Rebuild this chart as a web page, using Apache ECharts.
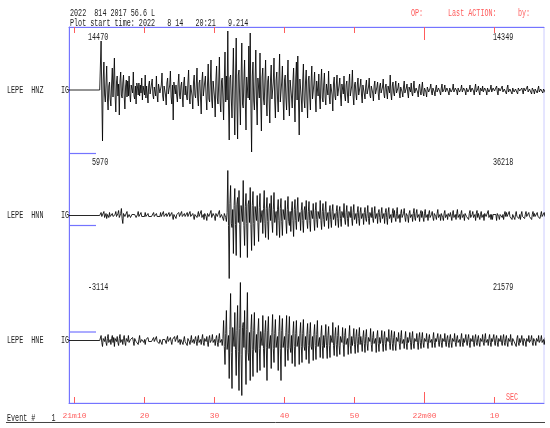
<!DOCTYPE html>
<html><head><meta charset="utf-8">
<script src="https://cdn.jsdelivr.net/npm/echarts@6/dist/echarts.min.js"></script>
<style>html,body{margin:0;padding:0;background:#fff}#c{width:550px;height:428px}</style>
</head><body><div id="c"></div>
<script>
// time axis (seconds after 20:21:00)
const plotStart = 9.214;
const plotEnd = 77.07;
const sigStart = 13.7;    // first sample of the listed values
const dt = 0.1;           // sample spacing, s
const tickSecs = [10, 20, 30, 40, 50, 60, 70];
const tickLabels = ['21m10', '20', '30', '40', '50', '22m00', '10'];
const channels = ['HNZ', 'HNN', 'HNE'];
const station = 'LEPE';
const leftCounts = ['14470', '5970', '-3114'];
const rightCounts = ['14349', '36218', '21579'];

// relative amplitude, one row per 2 s
const hnz = [
 0,49,-6,-51,10,28,-5,-12,6,24,-8,-20,4,8,-9,-16,6,22,-7,12,
 32,-5,-22,8,14,-6,6,-25,9,18,-5,-8,7,15,-6,-19,4,10,-7,9,
 -6,14,-4,-12,5,4,-3,18,-6,-9,4,-14,7,3,-5,7,-6,5,-3,12,
 -10,4,3,-5,15,-8,4,6,-13,5,9,-4,-4,6,11,-5,-9,3,5,-6,
 14,-5,-12,6,8,-3,-3,5,17,-6,-11,4,6,-5,-15,7,12,-4,-6,5,
 19,-7,-14,5,-30,8,10,-4,5,-6,-12,6,16,-5,-9,4,8,-6,-17,7,
 13,-5,4,-6,-10,7,20,-8,-14,5,7,-6,-19,8,15,-5,-8,6,22,-9,
 -16,7,10,-8,-24,9,18,-6,-6,8,14,-7,-20,6,26,-9,-12,8,30,-10,
 -18,9,9,-7,-27,10,24,-8,-14,7,33,-11,-22,9,12,-8,-30,10,38,-12,
 14,-10,59,-15,-50,12,15,-9,-28,11,42,-14,-45,13,52,-12,-49,15,20,-10,
 -35,12,47,-14,-18,10,30,-12,-40,13,12,-8,44,-10,57,-15,-62,14,28,-11,
 -20,9,40,-13,-35,12,10,-8,37,-12,-41,13,22,-9,-15,10,30,-12,-26,9,
 14,-10,-33,11,25,-9,-10,8,32,-11,-28,10,18,-8,-22,9,36,-12,-12,8,
 24,-9,-30,10,15,-8,-20,9,30,-11,-26,10,8,-7,-18,8,22,-9,-32,11,
 28,-10,34,-12,-45,11,12,-8,-22,9,26,-10,-18,8,20,-9,-28,10,14,-7,
 -20,8,24,-9,-8,6,18,-8,-22,9,10,-6,16,-7,-19,8,21,-8,-12,6,
 17,-7,-15,6,8,-5,19,-7,-14,6,6,-5,-21,7,13,-6,-10,5,15,-6,
 -8,5,12,-6,-16,6,5,-4,14,-6,-11,5,9,-5,-13,6,16,-6,-7,4,
 20,-6,-15,5,8,-4,-10,5,12,-5,-6,4,11,-5,-13,5,7,-4,-9,4,
 10,-4,-5,3,12,-5,-8,4,4,-3,-11,4,9,-4,-6,3,8,-4,-10,4,
 7,-3,-4,3,11,-4,-8,3,6,-3,-9,4,5,-3,15,-4,-10,4,8,-3,
 -6,3,9,-3,-3,2,7,-3,-8,3,5,-2,-7,3,9,-3,-4,2,6,-3,
 -8,3,4,-2,7,-3,-6,2,9,-3,-5,2,3,-2,-7,3,6,-2,-5,2,
 8,-3,-6,2,4,-2,-7,3,5,-2,-3,2,6,-2,-5,2,4,-2,-6,2,
 5,-2,-3,2,4,-2,-5,2,6,-2,-2,1,5,-2,-4,2,3,-2,-5,2,
 4,-2,-3,1,6,-2,-4,2,2,-1,-5,2,4,-2,-3,1,5,-2,-4,2,
 3,-1,-5,2,4,-2,-2,1,5,-2,-4,2,3,-1,-5,2,6,-2,-3,1,
 4,-2,-5,2,2,-1,4,-2,-4,2,3,-1,-5,2,4,-2,-3,1,5,-2,
 -4,2,2,-1,-3,1,4,-2,-5,2,3,-1,-2,1,4,-2,-4,1,3,-1,
 -4,2,5,-2,-2,1,3,-1,-4,2,4,-2,-3,1,2,-1,-4,2,4,-1,
 -3,1,2,-1,-4,2,3,-1,-3,1,4,-2,-2,1,3,-1,-4,2,3,-1,
 -4,1,2,-1,-3,1,4,-2,-2,1,3,-1,-3,1,2,-1,-3,1,2,-1
];
const hnn = [
 0,3,-1,-2,1,4,-2,-1,2,-3,1,2,-2,3,-1,-2,1,2,-1,1,
 -3,1,4,-1,-2,2,5,-2,-4,2,7,-3,-8,2,3,-1,-2,1,4,-2,
 -3,1,2,-2,-4,1,3,-1,-1,1,2,-2,-3,1,4,-1,-2,1,3,-1,
 -2,1,1,-1,3,-1,-2,1,2,-1,-3,1,1,-1,-2,1,3,-1,-1,1,
 2,-1,-3,1,1,-1,3,-1,-2,1,4,-1,-3,1,2,-1,-1,1,3,-1,
 -2,1,3,-1,-4,1,2,-1,-3,1,1,-1,3,-1,-2,1,4,-1,-3,1,
 2,-1,-3,1,3,-1,-1,1,4,-1,-3,1,2,-1,-4,1,3,-1,-2,1,
 4,-1,-3,1,5,-2,-2,1,-4,2,3,-1,-5,2,4,-1,-3,1,5,-2,
 -4,2,3,-1,-5,2,4,-1,-3,1,5,-2,-4,1,2,-1,-5,2,4,-2,
 -6,3,45,-10,-63,12,30,-8,-12,6,-38,10,27,-9,-40,11,18,-7,25,-9,
 -42,10,12,-6,35,-10,-30,9,22,-8,-42,11,15,-7,28,-9,-35,10,24,-8,
 -30,9,10,-5,20,-7,-26,8,22,-7,-8,5,-18,7,25,-8,-22,7,18,-6,
 -24,7,12,-5,20,-6,-17,6,23,-7,-9,4,-20,6,16,-5,-22,7,17,-6,
 -20,6,8,-4,15,-5,-18,6,19,-6,-10,4,-16,5,14,-5,-21,6,16,-5,
 -14,5,18,-6,-6,3,-15,5,13,-5,-17,5,9,-4,15,-5,-13,4,14,-5,
 -16,5,7,-3,12,-4,-15,5,13,-4,-12,4,5,-3,15,-5,-14,4,12,-4,
 -11,4,14,-5,-6,3,-13,4,10,-4,-12,4,11,-4,-4,2,-10,4,10,-3,
 -12,4,9,-3,-11,4,5,-2,12,-4,-9,3,10,-3,-11,4,3,-2,9,-3,
 -10,3,11,-4,-5,2,-8,3,9,-3,-10,3,8,-3,-4,2,-9,3,8,-3,
 -6,2,10,-3,-9,3,3,-2,8,-3,-7,2,9,-3,-4,2,-8,3,6,-2,
 -7,2,8,-3,-3,2,-8,3,7,-2,-9,3,8,-3,-2,1,-7,2,7,-2,
 5,-2,-6,2,8,-3,-3,1,-7,2,6,-2,-4,2,7,-2,-6,2,2,-1,
 -7,2,5,-2,-2,1,-6,2,7,-2,-5,2,6,-2,-3,1,-6,2,5,-2,
 4,-2,-6,2,6,-2,-2,1,-5,2,5,-2,-3,1,4,-2,-5,2,2,-1,
 -4,2,6,-2,-2,1,-5,2,4,-2,-5,2,5,-2,-1,1,-4,2,4,-1,
 3,-1,-5,2,5,-2,-2,1,-4,2,6,-2,-1,1,-4,2,5,-2,-3,1,
 -5,2,4,-1,-2,1,-4,2,5,-2,-4,1,4,-2,-1,1,-5,2,5,-2,
 2,-1,-4,1,4,-2,-1,1,-5,2,4,-1,-3,1,5,-2,-2,1,-4,1,
 -4,1,3,-1,-1,1,-5,2,4,-1,-4,1,3,-1,-2,1,-4,1,4,-1,
 3,-1,-3,1,4,-1,-1,1,-4,1,3,-1,-4,1,4,-1,-2,1,-3,1,
 -4,1,4,-1,-1,1,-3,1,4,-1,-3,1,3,-1,-2,1,-4,1,4,-1,
 2,-1,-3,1,3,-1,-1,1,-3,1,4,-1,-3,1,3,-1,-1,1,-3,1
];
const hne = [
 0,5,-2,-6,2,2,-1,4,-2,-5,2,6,-2,-2,1,-4,2,5,-2,3,
 -6,2,3,-1,4,-2,-5,2,6,-2,-3,1,-4,2,5,-2,-5,2,2,-1,
 5,-2,-4,1,1,-1,3,-1,-5,2,4,-1,-2,1,-4,1,5,-2,-3,1,
 3,-1,-2,1,-4,1,2,-1,3,-1,-3,1,1,-1,-2,1,3,-1,-3,1,
 4,-1,-1,1,-3,1,3,-1,-4,1,2,-1,1,-1,-3,1,4,-1,-3,1,
 3,-1,-4,1,2,-1,4,-1,-3,1,5,-2,-2,1,-4,1,3,-1,-4,1,
 4,-1,-2,1,-5,2,3,-1,-4,1,5,-2,-1,1,-3,1,4,-1,-5,2,
 5,-2,-3,1,-4,2,6,-2,-5,2,2,-1,4,-2,-6,2,5,-2,-4,1,
 6,-2,-2,1,-5,2,5,-2,-6,2,7,-2,-3,1,-5,2,20,-6,-24,7,
 30,-9,-10,5,-38,11,47,-12,-48,13,12,-6,28,-9,-35,10,35,-11,-50,12,
 58,-14,-55,13,18,-7,30,-9,-44,11,48,-12,-20,8,-40,11,26,-9,-36,10,
 28,-9,-12,6,-32,9,22,-8,-30,9,8,-5,25,-8,-27,8,20,-7,-40,10,
 24,-8,-10,5,-28,8,26,-8,-22,7,21,-7,-6,4,-30,9,25,-8,-40,10,
 22,-7,-8,4,-26,8,25,-8,-20,7,24,-7,-12,5,-23,7,19,-6,-26,7,
 20,-6,-6,4,-24,7,18,-6,-22,7,21,-6,-10,4,-19,6,17,-5,-23,7,
 18,-6,-9,4,-20,6,16,-5,-19,6,20,-6,-5,3,-17,5,15,-5,-18,5,
 -7,3,16,-5,-18,5,14,-5,-17,5,4,-2,18,-5,-15,5,13,-4,-16,5,
 15,-5,-14,4,5,-2,13,-4,-16,5,12,-4,-4,2,-14,4,15,-5,-13,4,
 -5,2,12,-4,-13,4,11,-3,-12,4,13,-4,4,-2,-11,3,10,-3,-12,4,
 11,-3,-10,3,3,-1,12,-4,-11,3,9,-3,-4,2,-12,4,10,-3,-11,3,
 -3,1,10,-3,-11,3,9,-3,-10,3,2,-1,11,-3,-9,3,10,-3,-10,3,
 9,-3,-10,3,3,-1,8,-3,-9,3,10,-3,-2,1,-8,2,9,-3,-9,3,
 -2,1,8,-2,-9,3,9,-3,-8,2,3,-1,7,-2,-9,3,8,-2,-8,2,
 8,-2,-7,2,2,-1,7,-2,-8,2,6,-2,-2,1,-7,2,8,-2,-7,2,
 -1,1,7,-2,-6,2,6,-2,-7,2,2,-1,7,-2,-6,2,5,-2,-7,2,
 6,-2,-7,2,1,-1,7,-2,-6,2,5,-2,-2,1,-6,2,7,-2,-6,2,
 -2,1,6,-2,-5,2,6,-2,-7,2,1,-1,5,-2,-6,2,6,-2,-5,2,
 5,-2,-6,2,1,-1,6,-2,-5,2,7,-2,-2,1,-5,2,6,-2,-6,2,
 -1,1,6,-2,-5,2,5,-2,-6,2,2,-1,5,-2,-5,2,6,-2,-5,2,
 5,-2,-6,2,1,-1,6,-2,-5,2,4,-1,-2,1,-6,2,5,-2,-5,2,
 -2,1,5,-2,-5,2,4,-1,-6,2,1,-1,5,-2,-4,1,5,-2,-5,2,
 4,-1,-5,2,1,-1,5,-2,-4,1,5,-2,-1,1,-4,1,4,-1,-5,2
];
const traces = [hnz, hnn, hne];

const BLUE = '#7474ff', RED = '#ff5c5c', TXT = '#222';
const GL = 69, GW = 475;
const centers = [90, 215.5, 340.5];
const H = 126;

function build(vals) {
  const d = [[plotStart, 0], [sigStart - dt, 0]];
  vals.forEach((v, i) => d.push([sigStart + i * dt, v]));
  return d;
}
function lblFmt(v) {
  const i = tickSecs.indexOf(Math.round(v));
  return i >= 0 ? tickLabels[i] : '';
}
const shortTicks = tickSecs.filter(v => v !== 60);

const grid = [{left: GL, top: 27, width: GW, height: 376, show: true, borderColor: '#ccccff', borderWidth: 1}];
const xAxis = [
  {gridIndex: 0, type: 'value', min: plotStart, max: plotEnd, position: 'bottom',
   axisLine: {lineStyle: {color: BLUE, width: 1}},
   axisTick: {inside: true, length: 6, lineStyle: {color: RED}, customValues: shortTicks},
   axisLabel: {color: RED, fontSize: 8, fontFamily: 'Liberation Mono', margin: 9, customValues: tickSecs, formatter: lblFmt},
   splitLine: {show: false}},
  {gridIndex: 0, type: 'value', min: plotStart, max: plotEnd, position: 'bottom',
   axisLine: {show: false},
   axisTick: {inside: true, length: 11, lineStyle: {color: RED}, customValues: [60]},
   axisLabel: {show: false}, splitLine: {show: false}},
  {gridIndex: 0, type: 'value', min: plotStart, max: plotEnd, position: 'top',
   axisLine: {lineStyle: {color: BLUE, width: 1}},
   axisTick: {inside: true, length: 6, lineStyle: {color: RED}, customValues: shortTicks},
   axisLabel: {show: false}, splitLine: {show: false}},
  {gridIndex: 0, type: 'value', min: plotStart, max: plotEnd, position: 'top',
   axisLine: {show: false},
   axisTick: {inside: true, length: 13, lineStyle: {color: RED}, customValues: [60]},
   axisLabel: {show: false}, splitLine: {show: false}}
];
const yAxis = [
  {gridIndex: 0, type: 'value', min: 0, max: 1, position: 'left',
   axisLine: {show: true, lineStyle: {color: BLUE, width: 1}}, axisTick: {show: false},
   axisLabel: {show: false}, splitLine: {show: false}}
];
const series = [];
traces.forEach((vals, k) => {
  const gi = k + 1;
  grid.push({left: GL, top: centers[k] - H / 2, width: GW, height: H});
  xAxis.push({gridIndex: gi, type: 'value', min: plotStart, max: plotEnd, show: false});
  yAxis.push({gridIndex: gi, type: 'value', min: -63, max: 63, show: false});
  series.push({type: 'line', xAxisIndex: 4 + k, yAxisIndex: gi, data: build(vals),
    showSymbol: false, symbol: 'none', silent: true, animation: false, sampling: null,
    lineStyle: {color: '#000', width: 0.85}});
});

const SX = 0.675;
function txt(s, x, y, color, align) {
  return {type: 'text', x: x, y: y, scaleX: SX, silent: true, z: 10,
    style: {text: s, font: '10px "Liberation Mono"', fill: color || TXT,
      align: align || 'left', verticalAlign: 'middle'}};
}
const graphics = [
  txt('2022  814 2017 56.6 L', 70, 13),
  txt('Plot start time: 2022   8 14   20:21   9.214', 70, 23),
  txt('OP:', 411, 13, RED),
  txt('Last ACTION:', 448, 13, RED),
  txt('by:', 518, 13, RED),
  txt('Event #    1', 7, 418),
  txt('SEC', 506, 397, RED),
  {type: 'line', silent: true, shape: {x1: 6, y1: 422.5, x2: 545, y2: 422.5}, style: {stroke: '#444', lineWidth: 1}}
];
const markerY = [153.5, 225.5, 332];
channels.forEach((ch, k) => {
  graphics.push(txt(station + '  ' + ch, 7, centers[k]));
  graphics.push(txt('IG', 61, centers[k]));
  graphics.push(txt(leftCounts[k], k === 1 ? 92 : 88, centers[k] - 53));
  graphics.push(txt(rightCounts[k], 493, centers[k] - 53));
  graphics.push({type: 'line', silent: true, shape: {x1: 69, y1: markerY[k], x2: 96, y2: markerY[k]},
    style: {stroke: BLUE, lineWidth: 1.2}});
});

const chart = echarts.init(document.getElementById('c'), null, {renderer: 'canvas'});
chart.setOption({animation: false, grid, xAxis, yAxis, series, graphic: graphics});
</script></body></html>
